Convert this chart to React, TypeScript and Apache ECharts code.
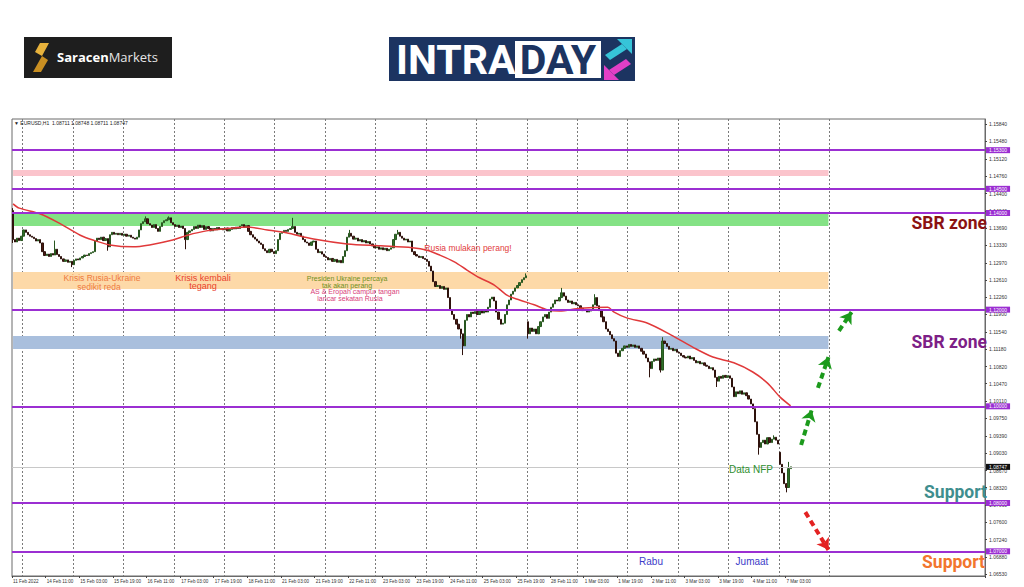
import React, { useEffect, useRef } from 'react';
import * as echarts from 'echarts';

// ---- DATA ----
// Hourly closes of EURUSD H1, bar 0 = 11 Feb 2022 19:00
const CLOSES = [
  1.1345, 1.1340, 1.1348, 1.1343, 1.1352, 1.1365, 1.1360, 1.1355, 1.1352, 1.1350,
  1.1347, 1.1342, 1.1345, 1.1338, 1.1320, 1.1312, 1.1315, 1.1310, 1.1316, 1.1313,
  1.1325, 1.1314, 1.1310, 1.1305, 1.1300, 1.1303, 1.1298, 1.1300, 1.1293, 1.1302,
  1.1305, 1.1303, 1.1307, 1.1310, 1.1313, 1.1312, 1.1316, 1.1318, 1.1320, 1.1342,
  1.1348, 1.1345, 1.1350, 1.1343, 1.1347, 1.1330, 1.1355, 1.1360, 1.1356, 1.1358,
  1.1355, 1.1358, 1.1354, 1.1356, 1.1352, 1.1354, 1.1350, 1.1348, 1.1346, 1.1350,
  1.1365, 1.1378, 1.1382, 1.1388, 1.1378, 1.1375, 1.1370, 1.1376, 1.1368, 1.1362,
  1.1372, 1.1380, 1.1384, 1.1386, 1.1390, 1.1380, 1.1376, 1.1372, 1.1375, 1.1370,
  1.1373, 1.1368, 1.1345, 1.1360, 1.1363, 1.1366, 1.1372, 1.1368, 1.1375, 1.1370,
  1.1374, 1.1366, 1.1372, 1.1368, 1.1363, 1.1368, 1.1365, 1.1370, 1.1366, 1.1368,
  1.1365, 1.1369, 1.1363, 1.1366, 1.1370, 1.1367, 1.1371, 1.1368, 1.1373, 1.1376,
  1.1370, 1.1374, 1.1362, 1.1355, 1.1350, 1.1346, 1.1342, 1.1338, 1.1335, 1.1326,
  1.1322, 1.1318, 1.1325, 1.1320, 1.1316, 1.1322, 1.1345, 1.1358, 1.1360, 1.1364,
  1.1362, 1.1366, 1.1368, 1.1372, 1.1360, 1.1356, 1.1358, 1.1352, 1.1345, 1.1340,
  1.1338, 1.1333, 1.1340, 1.1342, 1.1325, 1.1318, 1.1320, 1.1315, 1.1310, 1.1308,
  1.1303, 1.1306, 1.1300, 1.1304, 1.1298, 1.1302, 1.1297, 1.1310, 1.1322, 1.1350,
  1.1358, 1.1352, 1.1346, 1.1348, 1.1342, 1.1345, 1.1340, 1.1343, 1.1338, 1.1341,
  1.1336, 1.1332, 1.1328, 1.1330, 1.1325, 1.1328, 1.1324, 1.1327, 1.1322, 1.1325,
  1.1328, 1.1345, 1.1356, 1.1360, 1.1352, 1.1348, 1.1344, 1.1346, 1.1340, 1.1342,
  1.1320, 1.1314, 1.1311, 1.1308, 1.1310, 1.1306, 1.1304, 1.1300, 1.1290, 1.1280,
  1.1258, 1.1248, 1.1250, 1.1244, 1.1248, 1.1242, 1.1245, 1.1225, 1.1200, 1.1190,
  1.1180, 1.1170, 1.1160, 1.1150, 1.1125, 1.1178, 1.1190, 1.1185, 1.1195, 1.1192,
  1.1196, 1.1190, 1.1198, 1.1193, 1.1200, 1.1195, 1.1205, 1.1222, 1.1226, 1.1218,
  1.1195, 1.1180, 1.1170, 1.1172, 1.1190, 1.1210, 1.1220, 1.1232, 1.1238, 1.1245,
  1.1250, 1.1256, 1.1262, 1.1266, 1.1270, 1.1150, 1.1162, 1.1155, 1.1160, 1.1150,
  1.1165, 1.1175, 1.1185, 1.1190, 1.1182, 1.1195, 1.1205, 1.1212, 1.1220, 1.1218,
  1.1225, 1.1235, 1.1228, 1.1220, 1.1215, 1.1218, 1.1212, 1.1215, 1.1210, 1.1208,
  1.1203, 1.1198, 1.1200, 1.1195, 1.1197, 1.1200, 1.1210, 1.1225, 1.1208, 1.1198,
  1.1185, 1.1175, 1.1160, 1.1155, 1.1148, 1.1140, 1.1135, 1.1110, 1.1103, 1.1115,
  1.1120, 1.1125, 1.1122, 1.1128, 1.1124, 1.1127, 1.1122, 1.1125, 1.1120, 1.1114,
  1.1108, 1.1100, 1.1092, 1.1078, 1.1093, 1.1098, 1.1095, 1.1100, 1.1075, 1.1135,
  1.1130, 1.1124, 1.1118, 1.1120, 1.1115, 1.1118, 1.1112, 1.1110, 1.1105, 1.1102,
  1.1100, 1.1104, 1.1098, 1.1101, 1.1095, 1.1090, 1.1093, 1.1088, 1.1090, 1.1085,
  1.1083, 1.1078, 1.1080, 1.1075, 1.1060, 1.1052, 1.1062, 1.1058, 1.1064, 1.1060,
  1.1063, 1.1058, 1.1040, 1.1020, 1.1030, 1.1026, 1.1032, 1.1025, 1.1028, 1.1022,
  1.1015, 1.1005, 1.0995, 1.0968, 1.0942, 1.0915, 1.0925, 1.0930, 1.0922, 1.0935,
  1.0925, 1.0932, 1.0936, 1.0930, 1.0922, 1.0880, 1.0862, 1.0840, 1.0832, 1.08711,
  1.08747,
];
// opens that differ from the previous close (weekend gaps)
const OPEN_GAPS: Record<number, number> = { 0: 1.1405, 245: 1.1175, 365: 1.0905 };
// visible long wicks
const WICK_HIGHS: Record<number, number> = {
  0: 1.1410, 20: 1.1343, 63: 1.1393, 74: 1.1393, 133: 1.1390, 160: 1.1365, 183: 1.1365,
  244: 1.1275, 261: 1.1245, 277: 1.1232, 309: 1.1143, 362: 1.0940, 369: 1.0885, 370: 1.08748,
};
const WICK_LOWS: Record<number, number> = {
  0: 1.1338, 28: 1.1288, 45: 1.1322, 82: 1.1325, 213: 1.1140, 214: 1.1106, 245: 1.1140,
  303: 1.1060, 308: 1.1070, 335: 1.1040, 355: 1.0900, 368: 1.0822, 370: 1.08711,
};
// red moving average, read as [bar, value]
const MA_POINTS: [number, number][] = [
  [0, 1.1419], [3, 1.1410], [13, 1.1398], [22, 1.1379], [32, 1.1354], [38, 1.1344],
  [46, 1.1334], [57, 1.1330], [65, 1.1334], [76, 1.1344], [83, 1.1354], [92, 1.1363],
  [105, 1.1369], [111, 1.1371], [121, 1.1365], [130, 1.1359], [143, 1.1346], [159, 1.1336],
  [175, 1.1332], [190, 1.1328], [197, 1.1323], [203, 1.1313], [210, 1.1299], [216, 1.1282],
  [222, 1.1266], [229, 1.1251], [235, 1.1230], [241, 1.1220], [248, 1.1210], [254, 1.1200],
  [260, 1.1197], [270, 1.1203], [283, 1.1205], [286, 1.1195], [292, 1.1183], [302, 1.1172],
  [313, 1.1148], [324, 1.1121], [333, 1.1102], [343, 1.1090], [352, 1.1071], [359, 1.1048],
  [365, 1.1019], [370, 1.1001],
];
const LEVELS = [1.153, 1.145, 1.14, 1.12, 1.1, 1.08, 1.07];
const BID = 1.08747;
const ZONE_BOUNDS: [number, number][] = [
  [1.1489, 1.14766], // pink
  [1.14, 1.13731], // green
  [1.12779, 1.12428], // orange
  [1.11455, 1.11186], // blue
];
const ZONE_END_BAR = 388;
const Y_TICKS = [
  1.1584, 1.1548, 1.1512, 1.1476, 1.144, 1.1404, 1.1369, 1.1333, 1.1297, 1.1261, 1.1226,
  1.119, 1.1154, 1.1118, 1.1082, 1.1047, 1.1011, 1.0975, 1.0939, 1.0903, 1.0867, 1.0832,
  1.0796, 1.076, 1.0724, 1.0688, 1.0653,
];
const Y_MIN = 1.06489;
const Y_MAX = 1.15945;
// projected arrows: [fromBar, fromValue, toBar, toValue]
const UP_ARROWS: [number, number, number, number][] = [
  [375, 1.092, 380, 1.0992],
  [383, 1.1038, 388, 1.1102],
  [393, 1.1156, 399, 1.1195],
];
const DOWN_ARROW: [number, number, number, number] = [377, 1.0781, 388, 1.0703];
const TOTAL_SLOTS = 463;
const LABEL_STEP = 16;
const LAST_LABEL_BAR = 370;
const LAST_GRID_BAR = 389;

const MONTHS = ['Jan', 'Feb', 'Mar', 'Apr'];
function buildHours(): Date[] {
  const out: Date[] = [];
  let t = Date.UTC(2022, 1, 11, 19);
  while (out.length < TOTAL_SLOTS) {
    const d = new Date(t);
    const wd = d.getUTCDay();
    if (wd !== 0 && wd !== 6) out.push(d);
    t += 3600000;
  }
  return out;
}
const HOURS = buildHours();
const CATEGORIES = HOURS.map((d) => d.toISOString().slice(0, 13));
const pad = (n: number) => (n < 10 ? '0' + n : '' + n);
function labelFor(i: number): string {
  const d = HOURS[i];
  if (i === 0) return `${d.getUTCDate()} ${MONTHS[d.getUTCMonth()]} ${d.getUTCFullYear()}`;
  return `${d.getUTCDate()} ${MONTHS[d.getUTCMonth()]} ${pad(d.getUTCHours())}:00`;
}

export default function App() {
  const ref = useRef<HTMLDivElement>(null);
  useEffect(() => {
    if (!ref.current) return;
    const chart = echarts.init(ref.current, null, { renderer: 'svg' });

    const candles = CLOSES.map((c, i) => {
      const o = OPEN_GAPS[i] ?? (i === 0 ? c : CLOSES[i - 1]);
      const h = Math.max(o, c, WICK_HIGHS[i] ?? -Infinity);
      const l = Math.min(o, c, WICK_LOWS[i] ?? Infinity);
      return [o, c, l, h];
    });

    const labelInterval = (i: number) => i % LABEL_STEP === 0 && i <= LAST_LABEL_BAR;
    const dayInterval = (i: number) => HOURS[i] && HOURS[i].getUTCHours() === 0 && i <= LAST_GRID_BAR;

    const zoneColors = ['#fbc4cc', '#84e285', '#fdd9a8', '#a9bfdd'];
    const purple = '#9b2fd2';

    const txt = (text: string, x: number, y: number, fill: string, fontSize: number, extra: any = {}) => ({
      type: 'text',
      x,
      y,
      z: 100,
      silent: true,
      style: {
        text,
        fill,
        fontSize,
        fontFamily: 'Liberation Sans, Arial, sans-serif',
        align: 'center',
        verticalAlign: 'middle',
        ...extra,
      },
    });
    const bold = (text: string, x: number, y: number, fill: string) =>
      txt(text, x, y, fill, 17.5, { align: 'right', fontWeight: 'bold', fontFamily: 'Roboto, sans-serif' });

    const axisFont = 'Liberation Sans, Arial, sans-serif';

    const option: any = {
      animation: false,
      backgroundColor: '#ffffff',
      grid: { left: 12, right: 39, top: 119, bottom: 11, show: true, borderColor: '#6a6a6a', borderWidth: 1 },
      xAxis: {
        type: 'category',
        data: CATEGORIES,
        boundaryGap: true,
        axisLine: { show: true, lineStyle: { color: '#6a6a6a' } },
        axisTick: { show: true, interval: labelInterval, length: 2, lineStyle: { color: '#444' } },
        axisLabel: {
          interval: labelInterval,
          showMinLabel: true,
          formatter: (_v: string, i: number) => labelFor(i),
          fontSize: 4.6,
          color: '#333',
          align: 'left',
          margin: 3,
          fontFamily: axisFont,
        },
        splitLine: { show: true, interval: dayInterval, lineStyle: { color: '#7a7a7a', width: 1, type: [2, 2] } },
      },
      yAxis: {
        type: 'value',
        position: 'right',
        min: Y_MIN,
        max: Y_MAX,
        scale: true,
        splitLine: { show: false },
        axisLine: { show: true, lineStyle: { color: '#6a6a6a' } },
        axisTick: { show: true, customValues: Y_TICKS, length: 2, lineStyle: { color: '#444' } },
        axisLabel: {
          customValues: Y_TICKS,
          formatter: (v: number) => v.toFixed(5),
          fontSize: 5,
          color: '#333',
          margin: 4,
          fontFamily: axisFont,
        },
      },
      series: [
        {
          name: 'zones',
          type: 'line',
          data: [],
          z: 1,
          markArea: {
            silent: true,
            precision: 5,
            data: ZONE_BOUNDS.map(([top, bottom], k) => [
              { xAxis: CATEGORIES[0], yAxis: top, itemStyle: { color: zoneColors[k] } },
              { xAxis: CATEGORIES[ZONE_END_BAR], yAxis: bottom },
            ]),
          },
        },
        {
          name: 'levels',
          type: 'line',
          data: [],
          z: 2,
          markLine: {
            silent: true,
            symbol: 'none',
            precision: 5,
            data: [
              ...LEVELS.map((v) => ({
                yAxis: v,
                lineStyle: { color: purple, width: 2, type: 'solid' },
                label: {
                  show: true,
                  position: 'end',
                  distance: 1,
                  formatter: () => v.toFixed(5),
                  backgroundColor: purple,
                  color: '#fff',
                  fontSize: 5,
                  padding: [1, 3, 0, 3],
                  fontFamily: axisFont,
                },
              })),
              {
                yAxis: BID,
                lineStyle: { color: '#c8c8c8', width: 1, type: 'solid' },
                label: {
                  show: true,
                  position: 'end',
                  distance: 1,
                  formatter: () => BID.toFixed(5),
                  backgroundColor: '#111',
                  color: '#fff',
                  fontSize: 5,
                  padding: [1, 3, 0, 3],
                  fontFamily: axisFont,
                },
              },
            ],
          },
        },
        {
          name: 'EURUSD',
          type: 'candlestick',
          z: 3,
          data: candles,
          barWidth: 1.7,
          itemStyle: {
            color: '#2f7029',
            color0: '#4a1a12',
            borderColor: '#28561f',
            borderColor0: '#2e120c',
            borderWidth: 1,
          },
        },
        {
          name: 'MA',
          type: 'line',
          z: 4,
          data: MA_POINTS,
          showSymbol: false,
          smooth: 0.3,
          lineStyle: { color: '#e0393a', width: 1.5 },
        },
        {
          name: 'arrows',
          type: 'line',
          data: [],
          z: 5,
          markLine: {
            silent: true,
            precision: 5,
            symbol: ['none', 'arrow'],
            symbolSize: [11, 11],
            label: { show: false },
            data: [
              ...UP_ARROWS.map(([b0, v0, b1, v1]) => [
                { coord: [b0, v0], lineStyle: { color: '#1c9a1c', width: 4, type: [6, 4] }, itemStyle: { color: '#1c9a1c' } },
                { coord: [b1, v1] },
              ]),
              [
                {
                  coord: [DOWN_ARROW[0], DOWN_ARROW[1]],
                  lineStyle: { color: '#e32222', width: 4, type: [6, 4] },
                  itemStyle: { color: '#e32222' },
                },
                { coord: [DOWN_ARROW[2], DOWN_ARROW[3]] },
              ],
            ],
          },
        },
      ],
      graphic: [
        // Saracen Markets logo
        { type: 'rect', shape: { x: 24, y: 37, width: 148, height: 41 }, style: { fill: '#1e1e1e' }, silent: true },
        {
          type: 'polygon',
          shape: { points: [[40, 43], [49, 43], [42, 56], [35, 52]] },
          style: { fill: '#e7b23c' },
          silent: true,
        },
        {
          type: 'polygon',
          shape: { points: [[42, 56], [48, 60], [41, 72], [33, 72]] },
          style: { fill: '#c98f22' },
          silent: true,
        },
        {
          type: 'text',
          x: 57,
          y: 57,
          silent: true,
          style: {
            text: '{a|Saracen}{b|Markets}',
            verticalAlign: 'middle',
            rich: {
              a: { fill: '#ffffff', fontSize: 13, fontWeight: 'bold', fontFamily: 'Open Sans, sans-serif' },
              b: { fill: '#e6e6e6', fontSize: 13, fontFamily: 'Open Sans, sans-serif' },
            },
          },
        },
        // INTRADAY logo
        { type: 'rect', shape: { x: 389, y: 37, width: 246, height: 44 }, style: { fill: '#1c3461' }, silent: true },
        {
          type: 'text',
          x: 396,
          y: 60,
          silent: true,
          style: { text: 'INTRA', fill: '#ffffff', fontSize: 41, fontWeight: 'bold', fontFamily: 'Roboto, sans-serif', verticalAlign: 'middle' },
        },
        { type: 'rect', shape: { x: 515, y: 41, width: 86, height: 37 }, style: { fill: '#ffffff' }, silent: true },
        {
          type: 'text',
          x: 558,
          y: 60,
          silent: true,
          style: { text: 'DAY', fill: '#1c3461', fontSize: 41, fontWeight: 'bold', fontFamily: 'Roboto, sans-serif', align: 'center', verticalAlign: 'middle' },
        },
        { type: 'polygon', shape: { points: [[617, 39], [632, 39], [632, 54]] }, style: { fill: '#36c4d8' }, silent: true },
        { type: 'polygon', shape: { points: [[605, 55], [622, 44], [627, 49], [610, 60]] }, style: { fill: '#36c4d8' }, silent: true },
        { type: 'polygon', shape: { points: [[604, 65], [604, 80], [619, 80]] }, style: { fill: '#e23fc6' }, silent: true },
        { type: 'polygon', shape: { points: [[609, 70], [626, 59], [631, 64], [614, 75]] }, style: { fill: '#e23fc6' }, silent: true },
        // chart header
        txt('\u25BC EURUSD,H1  1.08711 1.08748 1.08711 1.08747', 14, 123, '#222', 5, { align: 'left', fontFamily: axisFont }),
        // annotations
        txt('Krisis Rusia-Ukraine', 102, 278, '#ee7a3e', 8.5),
        txt('sedikit reda', 99, 286.5, '#ee7a3e', 8.5),
        txt('Krisis kembali', 203, 277.5, '#e8412c', 9),
        txt('tegang', 203, 286, '#e8412c', 9),
        txt('Presiden Ukraine percaya', 347, 278.5, '#6f8f22', 7),
        txt('tak akan perang', 347, 285, '#6f8f22', 7),
        txt('AS & Eropah campur tangan', 355, 291.5, '#d8407a', 7),
        txt('lancar sekatan Rusia', 350, 298, '#d8407a', 7),
        txt('Rusia mulakan perang!', 468, 248, '#e23c3c', 8.5),
        txt('Data NFP', 751, 469, '#2f8f2f', 10),
        txt('Rabu', 651, 561, '#3c3cc8', 10),
        txt('Jumaat', 752, 561, '#3c3cc8', 10),
        bold('SBR zone', 987, 223, '#8b1212'),
        bold('SBR zone', 987, 342, '#7d2086'),
        bold('Support', 987, 492, '#3f8e8e'),
        bold('Support', 985, 562, '#f2762e'),
      ],
    };
    chart.setOption(option);
    return () => chart.dispose();
  }, []);
  return (
    <div
      ref={ref}
      style={{ position: 'fixed', left: 0, top: 0, width: 1024, height: 587, background: '#fff' }}
    />
  );
}
